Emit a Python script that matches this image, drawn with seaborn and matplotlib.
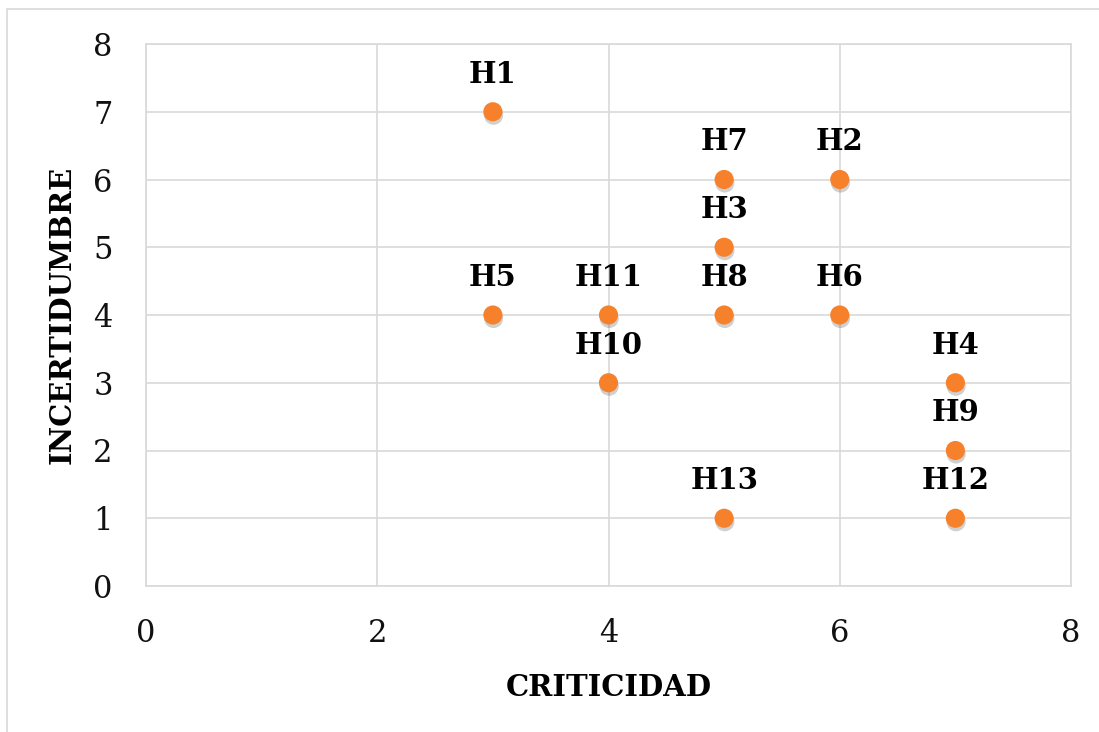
import numpy as np
import pandas as pd
import matplotlib
matplotlib.use('Agg')
import matplotlib.pyplot as plt
import matplotlib.patheffects as pe
from matplotlib.patches import Rectangle
import seaborn as sns

#data
labels = ['H1', 'H2', 'H3', 'H4', 'H5', 'H6', 'H7', 'H8', 'H9', 'H10', 'H11', 'H12', 'H13']
criticidad = [3, 6, 5, 7, 3, 6, 5, 5, 7, 4, 4, 7, 5]
incertidumbre = [7, 6, 5, 3, 4, 4, 6, 4, 2, 3, 4, 1, 1]
x_ticks = [0, 2, 4, 6, 8]
y_ticks = [0, 1, 2, 3, 4, 5, 6, 7, 8]

df = pd.DataFrame({'label': labels, 'CRITICIDAD': criticidad, 'INCERTIDUMBRE': incertidumbre})

sns.set_style('white')
plt.rcParams['font.family'] = ['DejaVu Serif']

fig = plt.figure(figsize=(10.99, 7.32), dpi=100)
ax = fig.add_axes([146/1099, 1-586/732, (1071-146)/1099, (586-44)/732])

#outer chart frame
fig.patches.append(Rectangle((7/1099, -0.1), 1.2, 1-9/732+0.1, transform=fig.transFigure,
                             fill=False, edgecolor='#d9d9d9', linewidth=1.2, zorder=0))

sns.scatterplot(x='CRITICIDAD', y='INCERTIDUMBRE', data=df, ax=ax, s=190,
                color='#f7812b', edgecolor='none', zorder=3,
                path_effects=[pe.SimplePatchShadow(offset=(0.5, -2.5), alpha=0.25, shadow_rgbFace='#444444'), pe.Normal()])

for lab, xv, yv in zip(labels, criticidad, incertidumbre):
    ax.annotate(lab, (xv, yv), xytext=(0, 21), textcoords='offset points',
                ha='center', va='baseline', fontsize=21, fontweight='bold', color='black')

ax.set_xlim(0, 8)
ax.set_ylim(0, 8)
ax.set_xticks(x_ticks)
ax.set_yticks(y_ticks)
ax.tick_params(axis='both', length=0, labelsize=22, labelcolor='#111111')
ax.tick_params(axis='x', pad=23)
ax.tick_params(axis='y', pad=24)
ax.grid(True, color='#d9d9d9', linewidth=1.2)
ax.set_axisbelow(True)
for sp in ax.spines.values():
    sp.set_color('#d9d9d9')
    sp.set_linewidth(1.2)

ax.set_xlabel('CRITICIDAD', fontsize=21, fontweight='bold', labelpad=17, color='black')
ax.set_ylabel('INCERTIDUMBRE', fontsize=21, fontweight='bold', labelpad=12, color='black')

fig.savefig('out.png', dpi=100)
